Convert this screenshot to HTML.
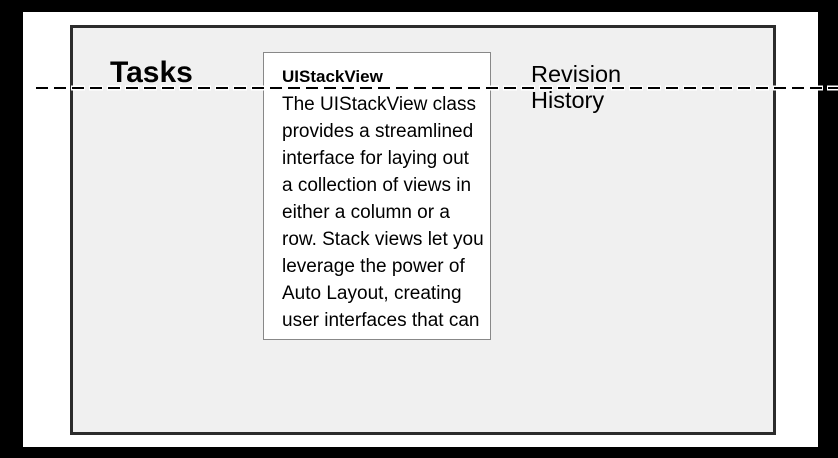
<!DOCTYPE html>
<html><head><style>
body{margin:0;width:838px;height:458px;background:#000;position:relative;overflow:hidden;font-family:"Liberation Sans",Arial,sans-serif}
.w{position:absolute;left:23px;top:12px;width:795px;height:435px;background:#fff}
.o{position:absolute;left:70px;top:25px;width:700px;height:404px;border:3px solid #2c2c2c;background:#f0f0f0}
.t{position:absolute;left:110px;top:56px;font-size:30px;font-weight:bold;color:#000}
.b{position:absolute;left:263px;top:52px;width:226px;height:286px;border:1px solid #888;background:#fff}
.h{position:absolute;left:18px;top:14px;font-size:17px;font-weight:bold}
.p{position:absolute;left:18px;top:38px;font-size:19px;line-height:27px;width:230px;white-space:nowrap}
.r{position:absolute;left:531px;top:61px;font-size:23.5px;line-height:26px}
</style></head><body>
<div class="w"></div>
<div class="o"></div>
<div class="t">Tasks</div>
<div class="b"><div class="h">UIStackView</div>
<div class="p">The UIStackView class<br>provides a streamlined<br>interface for laying out<br>a collection of views in<br>either a column or a<br>row. Stack views let you<br>leverage the power of<br>Auto Layout, creating<br>user interfaces that can</div></div>
<div class="r">Revision<br>History</div>
<svg style="position:absolute;left:0;top:0" width="838" height="458">
<line x1="35" y1="88" x2="838" y2="88" stroke="#fff" stroke-width="5" stroke-dasharray="14 4"/>
<line x1="36" y1="88" x2="838" y2="88" stroke="#000" stroke-width="2" stroke-dasharray="12 6"/>
</svg>
</body></html>
